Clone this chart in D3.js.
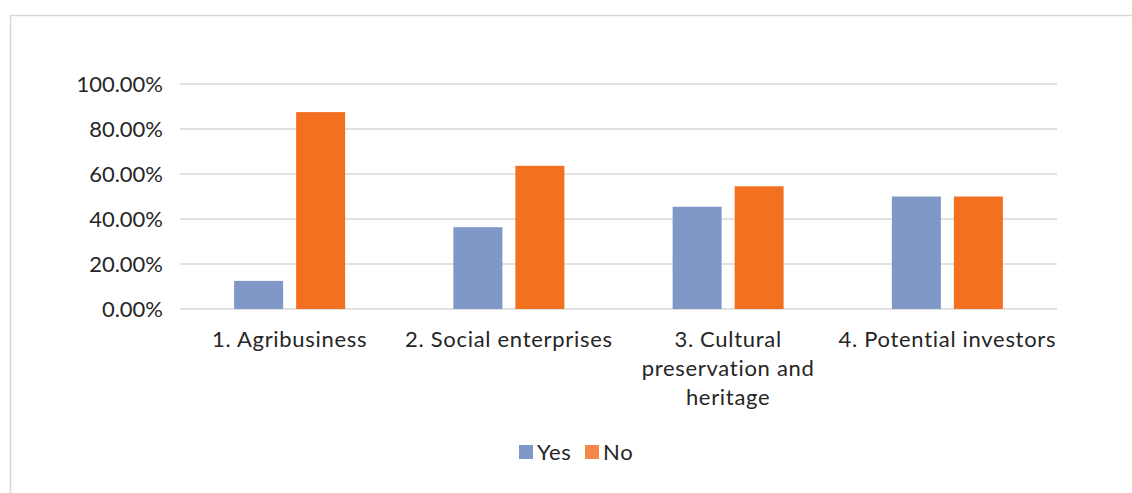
<!DOCTYPE html>
<html>
<head>
<meta charset="utf-8">
<script src="https://cdn.jsdelivr.net/npm/d3@7"></script>
<style>
html,body{margin:0;padding:0;background:#fff;}
svg{display:block;}
text{font-family:Lato,"Open Sans",sans-serif;fill:#262626;}
</style>
</head>
<body>
<svg id="chart" width="1132" height="493"></svg>
<script>
const categories = [
  ["1. Agribusiness"],
  ["2. Social enterprises"],
  ["3. Cultural", "preservation and", "heritage"],
  ["4. Potential investors"]
];
const seriesNames = ["Yes", "No"];
const yesValues = [0.125, 0.3636, 0.4545, 0.50];
const noValues = [0.875, 0.6364, 0.5455, 0.50];
const yTicks = [0, 0.2, 0.4, 0.6, 0.8, 1.0];
const colors = ["#7f98c8", "#f37021"];

(function () {
const svg = d3.select("#chart");
const W = 1132, H = 493;

// frame
svg.append("line").attr("x1", 10).attr("x2", W).attr("y1", 15.5).attr("y2", 15.5)
  .attr("stroke", "#d9d9d9").attr("stroke-width", 1.5);
svg.append("line").attr("x1", 10.5).attr("x2", 10.5).attr("y1", 15).attr("y2", H)
  .attr("stroke", "#d9d9d9").attr("stroke-width", 1.5);

const pLeft = 180, pRight = 1057, pTop = 84, pBottom = 309;
const x = d3.scaleBand().domain(d3.range(categories.length)).range([pLeft, pRight]);
const y = d3.scaleLinear().domain([0, 1]).range([pBottom, pTop]);

// gridlines
svg.append("g").selectAll("line").data(yTicks).join("line")
  .attr("x1", pLeft).attr("x2", pRight)
  .attr("y1", d => y(d)).attr("y2", d => y(d))
  .attr("stroke", "#d9d9d9").attr("stroke-width", 1.5);

// y axis labels
const yAxis = d3.axisLeft(y).tickValues(yTicks).tickFormat(d => (d * 100).toFixed(2) + "%").tickSize(0).tickPadding(17);
const yg = svg.append("g").attr("transform", `translate(${pLeft},0)`).call(yAxis);
yg.select(".domain").remove();
yg.selectAll("text").attr("font-size", 22).attr("font-family", "Lato, sans-serif").attr("fill", "#262626");

// bars
const barW = 49, gap = 13;
const inner = d3.scaleBand().domain([0, 1]).range([0, 2 * barW + gap]).paddingInner(gap / (barW + gap));
const data = [yesValues, noValues];
data.forEach((vals, s) => {
  svg.append("g").selectAll("rect").data(vals).join("rect")
    .attr("x", (d, i) => x(i) + x.bandwidth() / 2 - (2 * barW + gap) / 2 + inner(s))
    .attr("width", inner.bandwidth())
    .attr("y", d => y(d))
    .attr("height", d => y(0) - y(d))
    .attr("fill", colors[s]);
});

// category labels
const xg = svg.append("g");
categories.forEach((lines, i) => {
  const t = xg.append("text").attr("text-anchor", "middle").attr("font-size", 22)
    .attr("letter-spacing", 0.7)
    .attr("x", x(i) + x.bandwidth() / 2).attr("y", 347);
  lines.forEach((l, j) => {
    t.append("tspan").attr("x", x(i) + x.bandwidth() / 2).attr("dy", j === 0 ? 0 : 29).text(l);
  });
});

// legend
const legend = svg.append("g");
const legX = [519, 585];
seriesNames.forEach((n, s) => {
  legend.append("rect").attr("x", legX[s]).attr("y", 445).attr("width", 14).attr("height", 14)
    .attr("fill", s === 0 ? colors[0] : "#f4874a");
  legend.append("text").attr("x", legX[s] + 18).attr("y", 460).attr("font-size", 22)
    .attr("letter-spacing", 0.7).text(n);
});
})();
</script>
</body>
</html>
